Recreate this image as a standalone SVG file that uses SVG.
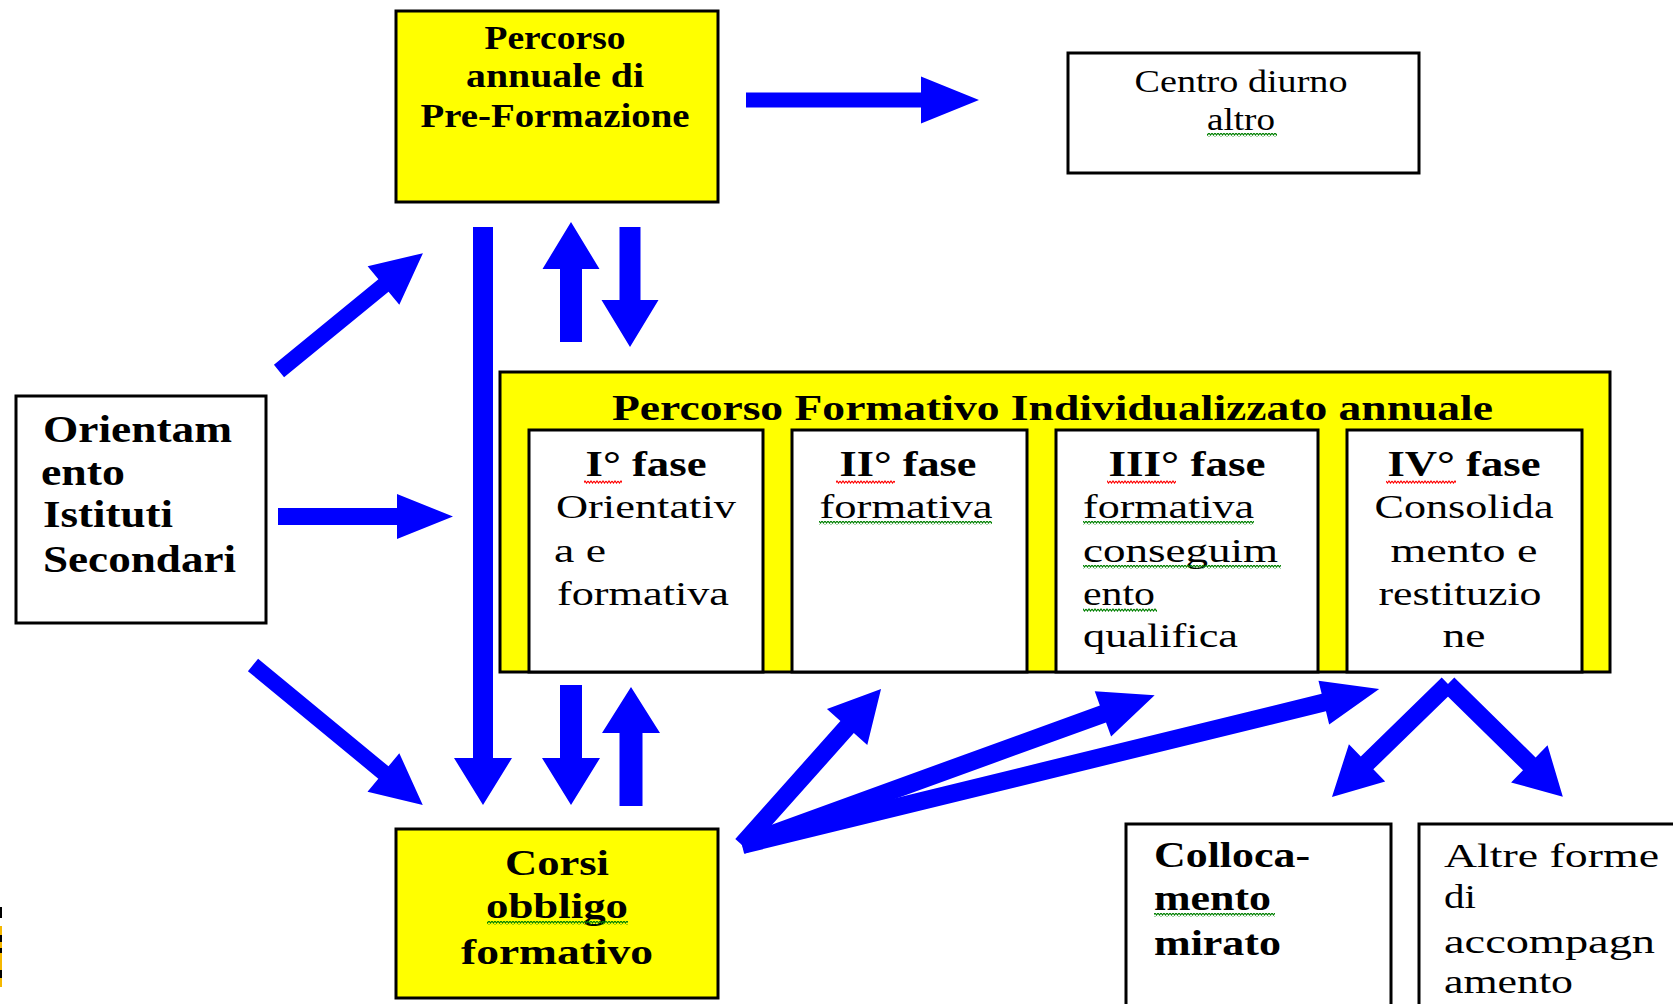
<svg xmlns="http://www.w3.org/2000/svg" width="1673" height="1004" viewBox="0 0 1673 1004">
<style>
.box{fill:#FFFFFF;stroke:#000000;stroke-width:3}
.ybox{fill:#FFFF00;stroke:#000000;stroke-width:3}
.arr{fill:#0000FF}
.b{font-family:"Liberation Serif","Times New Roman",serif;font-weight:bold;fill:#000000}
.r{font-family:"Liberation Serif","Times New Roman",serif;font-weight:normal;fill:#000000}
.m{text-anchor:middle}
</style>
<defs>
<pattern id="sqG" patternUnits="userSpaceOnUse" width="6" height="4"><path d="M0,1 L1.5,3 L3,1 L4.5,3 L6,1" fill="none" stroke="#008000" stroke-width="1.2"/></pattern>
<pattern id="sqR" patternUnits="userSpaceOnUse" width="6" height="4"><path d="M0,1 L1.5,3 L3,1 L4.5,3 L6,1" fill="none" stroke="#FF0000" stroke-width="1.2"/></pattern>
</defs>
<rect width="1673" height="1004" fill="#FFFFFF"/>

<g id="connectors">
<polygon class="arr" transform="translate(746,100)" points="0,-7.5 175,-7.5 175,-23.5 233,0 175,23.5 175,7.5 0,7.5"/>
<polygon class="arr" transform="translate(278,516.5)" points="0,-8.5 119,-8.5 119,-22.5 175,0 119,22.5 119,8.5 0,8.5"/>
<polygon class="arr" transform="translate(279,371) rotate(-39.3)" points="0,-8 135,-8 135,-25 186,0 135,25 135,8 0,8"/>
<polygon class="arr" transform="translate(253,665) rotate(39.5)" points="0,-8 169,-8 169,-25 220,0 169,25 169,8 0,8"/>
<polygon class="arr" transform="translate(483,227) rotate(90)" points="0,-10 531,-10 531,-29 578,0 531,29 531,10 0,10"/>
<polygon class="arr" transform="translate(571,342) rotate(-90)" points="0,-11 73,-11 73,-28.5 120,0 73,28.5 73,11 0,11"/>
<polygon class="arr" transform="translate(630,227) rotate(90)" points="0,-10.5 73,-10.5 73,-28.5 120,0 73,28.5 73,10.5 0,10.5"/>
<polygon class="arr" transform="translate(571,685) rotate(90)" points="0,-11 73,-11 73,-29 120,0 73,29 73,11 0,11"/>
<polygon class="arr" transform="translate(631,806) rotate(-90)" points="0,-11.5 73,-11.5 73,-29 119,0 73,29 73,11.5 0,11.5"/>
<polygon class="arr" transform="translate(742,845) rotate(-48.3)" points="0,-9 158,-9 158,-27 209,0 158,27 158,9 0,9"/>
<polygon class="arr" transform="translate(742,845) rotate(-19.96)" points="0,-9 384,-9 384,-24 439,0 384,24 384,9 0,9"/>
<polygon class="arr" transform="translate(742,845) rotate(-13.76)" points="0,-9 599,-9 599,-22.5 656,0 599,22.5 599,9 0,9"/>
<polygon class="arr" transform="translate(1448,684) rotate(135.75)" points="0,-9 113,-9 113,-26 162,0 113,26 113,9 0,9"/>
<polygon class="arr" transform="translate(1448,684) rotate(44.5)" points="0,-9 114,-9 114,-26 161,0 114,26 114,9 0,9"/>
</g>

<g id="pre-formazione">
<rect class="ybox" x="396" y="11" width="322" height="191"/>
<text class="b m" x="555" y="49" font-size="34" textLength="141" lengthAdjust="spacingAndGlyphs">Percorso</text>
<text class="b m" x="555" y="87" font-size="34" textLength="178" lengthAdjust="spacingAndGlyphs">annuale di</text>
<text class="b m" x="555" y="127" font-size="34" textLength="269" lengthAdjust="spacingAndGlyphs">Pre-Formazione</text>
</g>

<g id="centro-diurno">
<rect class="box" x="1068" y="53" width="351" height="120"/>
<text class="r m" x="1241" y="92" font-size="32" textLength="213" lengthAdjust="spacingAndGlyphs">Centro diurno</text>
<text class="r m" x="1241" y="130" font-size="32" textLength="68" lengthAdjust="spacingAndGlyphs">altro</text>
<rect x="1207" y="133" width="70" height="4" fill="url(#sqG)"/>
</g>

<g id="orientamento">
<rect class="box" x="16" y="396" width="250" height="227"/>
<text class="b" x="43" y="442" font-size="37" textLength="189" lengthAdjust="spacingAndGlyphs">Orientam</text>
<text class="b" x="41" y="485" font-size="37" textLength="84" lengthAdjust="spacingAndGlyphs">ento</text>
<text class="b" x="43" y="527" font-size="37" textLength="130" lengthAdjust="spacingAndGlyphs">Istituti</text>
<text class="b" x="43" y="572" font-size="37" textLength="193" lengthAdjust="spacingAndGlyphs">Secondari</text>
</g>

<g id="percorso-formativo">
<rect class="ybox" x="500" y="372" width="1110" height="300"/>
<text class="b" x="612" y="420" font-size="35" textLength="881" lengthAdjust="spacingAndGlyphs">Percorso Formativo Individualizzato annuale</text>
</g>

<g id="fase-1">
<rect class="box" x="529" y="430" width="234" height="242"/>
<text class="b m" x="646" y="476" font-size="35" textLength="121" lengthAdjust="spacingAndGlyphs">I° fase</text>
<rect x="584" y="480" width="38" height="4" fill="url(#sqR)"/>
<text class="r" x="556" y="518" font-size="33" textLength="180" lengthAdjust="spacingAndGlyphs">Orientativ</text>
<text class="r" x="554" y="562" font-size="33" textLength="52" lengthAdjust="spacingAndGlyphs">a e</text>
<text class="r" x="557" y="605" font-size="33" textLength="172" lengthAdjust="spacingAndGlyphs">formativa</text>
</g>

<g id="fase-2">
<rect class="box" x="792" y="430" width="235" height="242"/>
<text class="b m" x="908" y="476" font-size="35" textLength="137" lengthAdjust="spacingAndGlyphs">II° fase</text>
<rect x="836" y="480" width="59" height="4" fill="url(#sqR)"/>
<text class="r m" x="906" y="518" font-size="33" textLength="173" lengthAdjust="spacingAndGlyphs">formativa</text>
<rect x="819" y="521" width="173" height="4" fill="url(#sqG)"/>
</g>

<g id="fase-3">
<rect class="box" x="1056" y="430" width="262" height="242"/>
<text class="b m" x="1187" y="476" font-size="35" textLength="157" lengthAdjust="spacingAndGlyphs">III° fase</text>
<rect x="1107" y="480" width="69" height="4" fill="url(#sqR)"/>
<text class="r" x="1083" y="518" font-size="33" textLength="171" lengthAdjust="spacingAndGlyphs">formativa</text>
<rect x="1083" y="521" width="171" height="4" fill="url(#sqG)"/>
<text class="r" x="1083" y="562" font-size="33" textLength="195" lengthAdjust="spacingAndGlyphs">conseguim</text>
<rect x="1083" y="565" width="198" height="4" fill="url(#sqG)"/>
<text class="r" x="1083" y="605" font-size="33" textLength="72" lengthAdjust="spacingAndGlyphs">ento</text>
<rect x="1083" y="608" width="74" height="4" fill="url(#sqG)"/>
<text class="r" x="1083" y="647" font-size="33" textLength="155" lengthAdjust="spacingAndGlyphs">qualifica</text>
</g>

<g id="fase-4">
<rect class="box" x="1347" y="430" width="235" height="242"/>
<text class="b m" x="1464" y="476" font-size="35" textLength="153" lengthAdjust="spacingAndGlyphs">IV° fase</text>
<rect x="1386" y="480" width="70" height="4" fill="url(#sqR)"/>
<text class="r m" x="1464" y="518" font-size="33" textLength="179" lengthAdjust="spacingAndGlyphs">Consolida</text>
<text class="r m" x="1464" y="562" font-size="33" textLength="147" lengthAdjust="spacingAndGlyphs">mento e</text>
<text class="r m" x="1460" y="605" font-size="33" textLength="163" lengthAdjust="spacingAndGlyphs">restituzio</text>
<text class="r m" x="1464" y="647" font-size="33" textLength="43" lengthAdjust="spacingAndGlyphs">ne</text>
</g>

<g id="corsi-obbligo">
<rect class="ybox" x="396" y="829" width="322" height="169"/>
<text class="b m" x="557" y="875" font-size="36" textLength="104" lengthAdjust="spacingAndGlyphs">Corsi</text>
<text class="b m" x="557" y="918" font-size="36" textLength="142" lengthAdjust="spacingAndGlyphs">obbligo</text>
<rect x="487" y="921" width="141" height="4" fill="url(#sqG)"/>
<text class="b m" x="557" y="964" font-size="36" textLength="192" lengthAdjust="spacingAndGlyphs">formativo</text>
</g>

<g id="collocamento">
<rect class="box" x="1126" y="824" width="265" height="200"/>
<text class="b" x="1154" y="867" font-size="36" textLength="156" lengthAdjust="spacingAndGlyphs">Colloca-</text>
<text class="b" x="1154" y="910" font-size="36" textLength="117" lengthAdjust="spacingAndGlyphs">mento</text>
<rect x="1154" y="913" width="121" height="4" fill="url(#sqG)"/>
<text class="b" x="1154" y="955" font-size="36" textLength="127" lengthAdjust="spacingAndGlyphs">mirato</text>
</g>

<g id="altre-forme">
<rect class="box" x="1419" y="824" width="270" height="200"/>
<text class="r" x="1444" y="867" font-size="34" textLength="215" lengthAdjust="spacingAndGlyphs">Altre forme</text>
<text class="r" x="1444" y="908" font-size="34" textLength="32" lengthAdjust="spacingAndGlyphs">di</text>
<text class="r" x="1444" y="953" font-size="34" textLength="211" lengthAdjust="spacingAndGlyphs">accompagn</text>
<text class="r" x="1444" y="993" font-size="34" textLength="129" lengthAdjust="spacingAndGlyphs">amento</text>
</g>

<g id="edge-fragment">
<rect x="0" y="907" width="2" height="11" fill="#000000"/>
<rect x="0" y="926" width="2" height="61" fill="#F5B800"/>
<rect x="0" y="935" width="2" height="7" fill="#000000"/>
<rect x="0" y="948" width="2" height="5" fill="#000000"/>
<rect x="0" y="970" width="2" height="8" fill="#000000"/>
</g>
</svg>
